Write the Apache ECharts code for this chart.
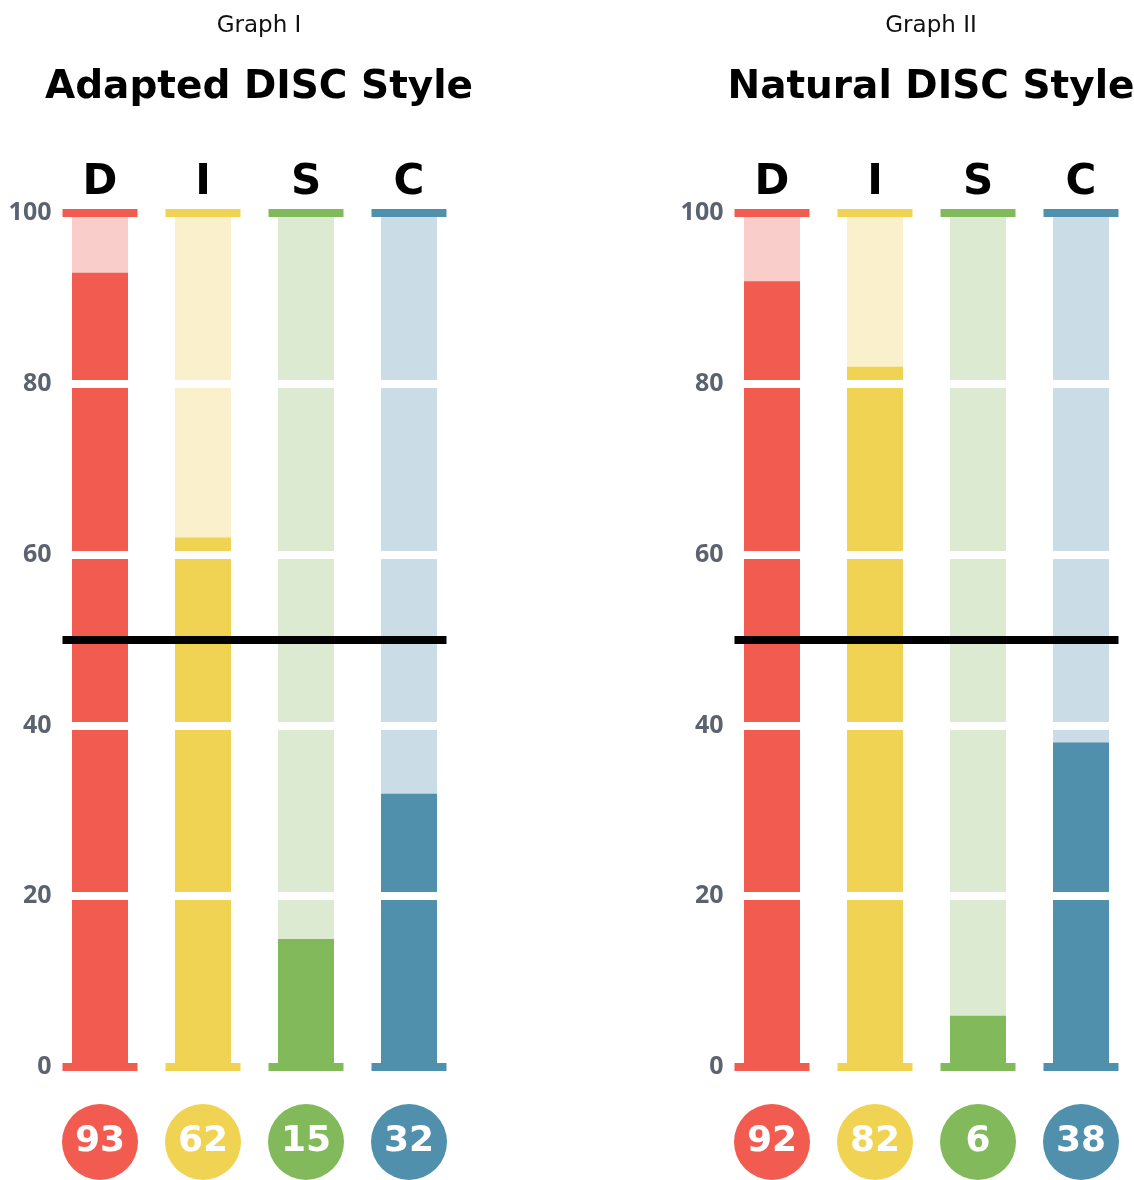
<!DOCTYPE html>
<html>
<head>
<meta charset="utf-8">
<title>DISC Styles</title>
<script src="https://cdn.jsdelivr.net/npm/echarts@6/dist/echarts.min.js"></script>
<style>
  html, body { margin: 0; padding: 0; background: #fff; width: 1134px; height: 1180px; overflow: hidden; }
  #chart { position: absolute; left: 0; top: 0; width: 1134px; height: 1180px; }
</style>
</head>
<body>
<div id="chart"></div>
<script>
const styles = ['D', 'I', 'S', 'C']
const adaptedScores = [93, 62, 15, 32]
const naturalScores = [92, 82, 6, 38]
const yTicks = [0, 20, 40, 60, 80, 100]
const midline = 50
const graphLabels = ['Graph I', 'Graph II']
const graphTitles = ['Adapted DISC Style', 'Natural DISC Style']

const darkColors = ['#f25c50', '#f0d352', '#82ba5b', '#5190ad']
const lightColors = ['#f9cdca', '#faf1cc', '#dbead0', '#cadde6']

const headFont = '"DejaVu Sans", sans-serif'
const bodyFont = '"Open Sans", "Noto Sans", sans-serif'

const panels = [
  { scores: adaptedScores, left: 48.5, center: 254 },
  { scores: naturalScores, left: 720.5, center: 926 }
]
const bandWidth = 103
const barWidth = 56
const capWidth = 75
const capHalf = capWidth / 2 / bandWidth

const chart = echarts.init(document.getElementById('chart'))

const title = []
const grid = []
const xAxis = []
const yAxis = []
const series = []

const circleRich = {}
darkColors.forEach((c, i) => {
  circleRich['c' + i] = {
    backgroundColor: c,
    width: 76,
    height: 76,
    borderRadius: 38,
    lineHeight: 76,
    align: 'center',
    verticalAlign: 'middle',
    color: '#fff',
    fontSize: 36,
    fontWeight: 'bold',
    fontFamily: headFont
  }
})

panels.forEach((p, g) => {
  title.push({
    text: graphLabels[g],
    left: p.center,
    top: 10,
    textAlign: 'center',
    textStyle: { fontFamily: headFont, fontWeight: 'normal', fontSize: 23, color: '#111' }
  })
  title.push({
    text: graphTitles[g],
    left: p.center,
    top: 63,
    textAlign: 'center',
    textStyle: { fontFamily: headFont, fontWeight: 'bold', fontSize: 39, color: '#000' }
  })

  grid.push({ left: p.left, top: 213, width: bandWidth * 4, height: 857 })

  // top: D I S C headers (bars attach here)
  xAxis.push({
    type: 'category',
    gridIndex: g,
    position: 'top',
    data: styles,
    axisLine: { show: false },
    axisTick: { show: false },
    axisLabel: {
      margin: 9,
      fontSize: 42,
      fontWeight: 'bold',
      fontFamily: headFont,
      color: '#000'
    }
  })
  // bottom: score circles
  xAxis.push({
    type: 'category',
    gridIndex: g,
    position: 'bottom',
    data: p.scores.map(String),
    axisLine: { show: false },
    axisTick: { show: false },
    axisLabel: {
      margin: 37,
      formatter: (value, idx) => '{c' + idx + '|' + value + '}',
      rich: circleRich
    }
  })
  // hidden value axis for the midline
  xAxis.push({
    type: 'value',
    gridIndex: g,
    min: -0.5,
    max: 3.5,
    show: false
  })

  yAxis.push({
    type: 'value',
    gridIndex: g,
    min: yTicks[0],
    max: yTicks[yTicks.length - 1],
    interval: 20,
    z: 10,
    axisLine: { show: false },
    axisTick: { show: false },
    splitLine: { show: false },
    axisLabel: {
      margin: -3,
      fontSize: 25,
      fontWeight: 'bold',
      fontFamily: bodyFont,
      color: '#5b6370'
    }
  })

  const xi = g * 3

  series.push({
    type: 'bar',
    xAxisIndex: xi,
    yAxisIndex: g,
    barWidth: barWidth,
    barGap: '-100%',
    silent: true,
    z: 1,
    data: styles.map((s, i) => ({ value: yTicks[yTicks.length - 1], itemStyle: { color: lightColors[i] } }))
  })
  series.push({
    type: 'bar',
    xAxisIndex: xi,
    yAxisIndex: g,
    barWidth: barWidth,
    barGap: '-100%',
    silent: true,
    z: 2,
    data: p.scores.map((v, i) => ({ value: v, itemStyle: { color: darkColors[i] } })),
    markLine: {
      silent: true,
      symbol: ['none', 'none'],
      label: { show: false },
      lineStyle: { color: '#fff', width: 8, type: 'solid' },
      data: yTicks.slice(1, -1).map(t => ({ yAxis: t }))
    }
  })
  // end caps at 0 and 100
  ;[yTicks[0], yTicks[yTicks.length - 1]].forEach(level => {
    series.push({
      type: 'scatter',
      xAxisIndex: xi,
      yAxisIndex: g,
      symbol: 'rect',
      symbolSize: [capWidth, 8],
      silent: true,
      z: 4,
      data: styles.map((s, i) => ({ value: [s, level], itemStyle: { color: darkColors[i], opacity: 1 } }))
    })
  })
  series.push({
    type: 'line',
    xAxisIndex: xi + 2,
    yAxisIndex: g,
    symbol: 'none',
    silent: true,
    z: 6,
    lineStyle: { color: '#000', width: 8 },
    data: [[-capHalf, midline], [styles.length - 1 + capHalf, midline]]
  })
})

chart.setOption({
  animation: false,
  title,
  grid,
  xAxis,
  yAxis,
  series
})
</script>
</body>
</html>
